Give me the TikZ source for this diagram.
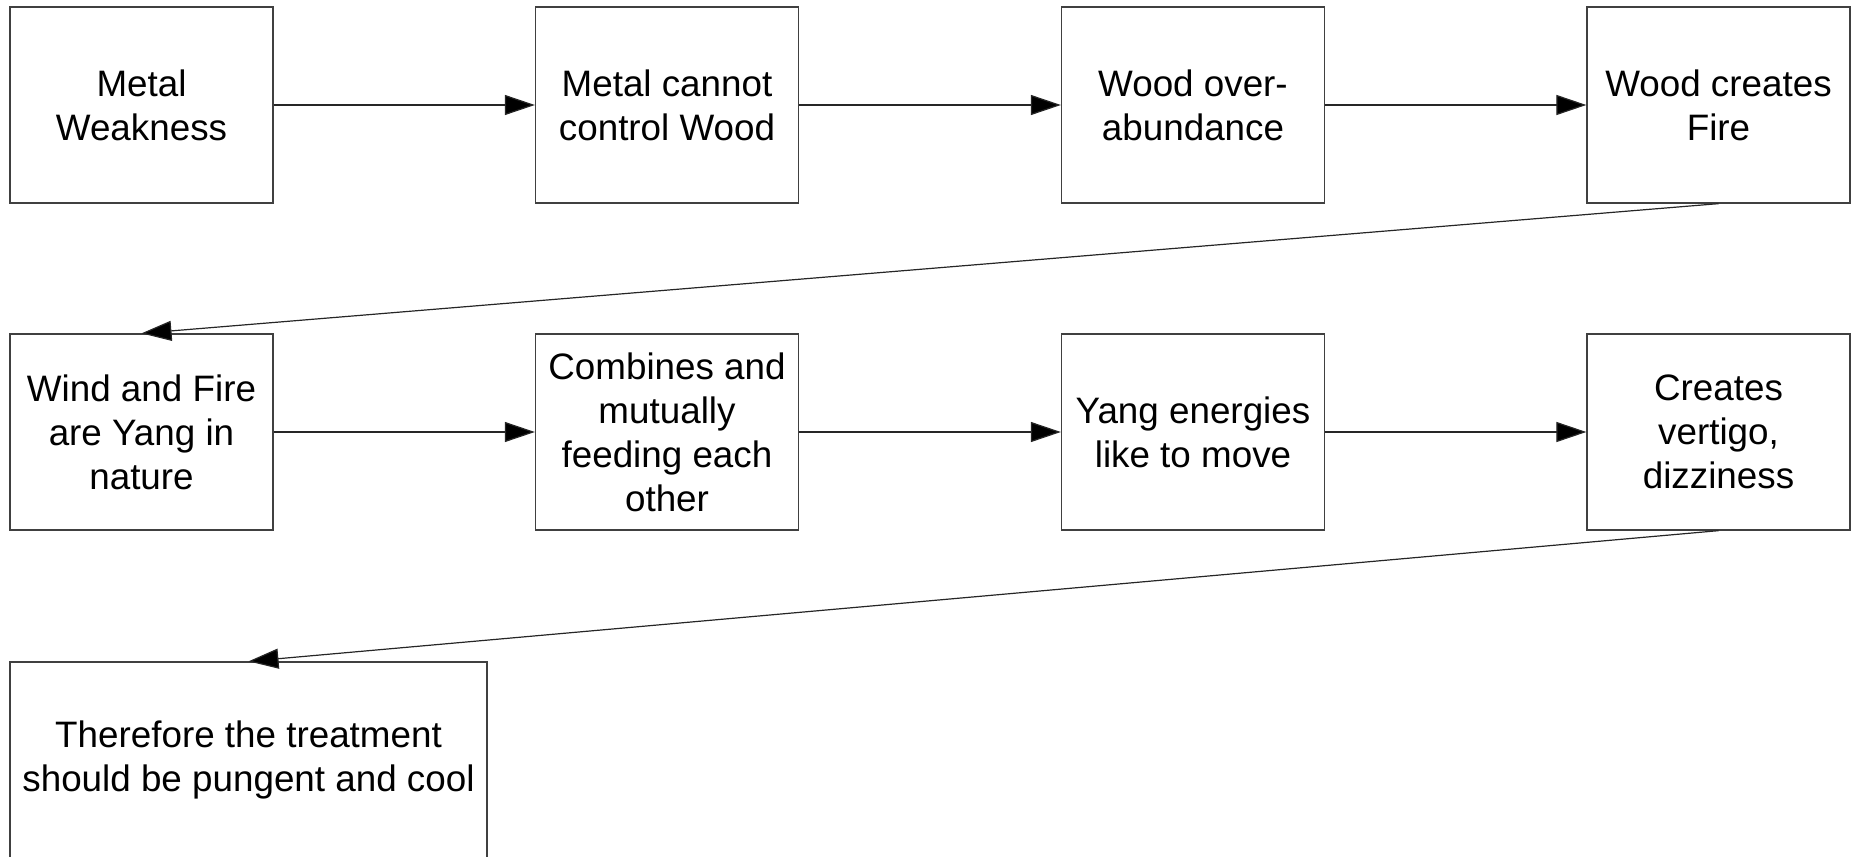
\documentclass[tikz,border=0pt]{standalone}
\usepackage{fontspec}
\setmainfont{Liberation Sans}
\usetikzlibrary{arrows.meta}
\begin{document}
\begin{tikzpicture}[x=1pt,y=-1pt,
  box/.style={draw=black!75,line width=1.3pt,rectangle,inner sep=0pt,
    minimum width=263pt,minimum height=196pt,align=center,
    font=\fontsize{36.8}{44}\selectfont},
  link/.style={draw=black!85,line width=1.2pt,-{Triangle[length=30pt,width=20pt,fill=black]}}]
\useasboundingbox (0,0) rectangle (1851,856);
% row 1
\node[box] (a1) at (141.5,105) {Metal\\Weakness};
\node[box] (a2) at (667,105) {Metal cannot\\control Wood};
\node[box] (a3) at (1193,105) {Wood over-\\abundance};
\node[box] (a4) at (1718.5,105) {Wood creates\\Fire};
% row 2
\node[box] (b1) at (141.5,432) {Wind and Fire\\are Yang in\\nature};
\node[box] (b2) at (667,432) {Combines and\\mutually\\feeding each\\other};
\node[box] (b3) at (1193,432) {Yang energies\\like to move};
\node[box] (b4) at (1718.5,432) {Creates\\vertigo,\\dizziness};
% row 3
\node[box,minimum width=477pt] (c1) at (248.5,760) {Therefore the treatment\\should be pungent and cool};
% connectors
\draw[link] (a1) -- (a2);
\draw[link] (a2) -- (a3);
\draw[link] (a3) -- (a4);
\draw[link] (a4.south) -- (b1.north);
\draw[link] (b1) -- (b2);
\draw[link] (b2) -- (b3);
\draw[link] (b3) -- (b4);
\draw[link] (b4.south) -- (c1.north);
\end{tikzpicture}
\end{document}
